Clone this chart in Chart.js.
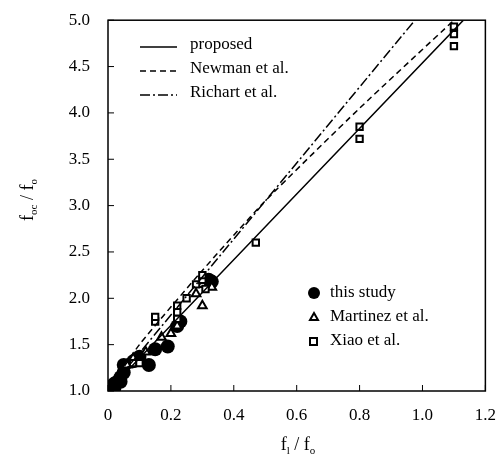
<!DOCTYPE html>
<html>
<head>
<meta charset="utf-8">
<script src="https://cdn.jsdelivr.net/npm/chart.js@4"></script>
<style>
  body { margin: 0; background: #fff; }
  #wrap { width: 502px; height: 461px; position: relative; }
</style>
</head>
<body>
<div id="wrap"><canvas id="chart"></canvas></div>
<script>
// this study (filled circles)
const studyX = [0, 0.005, 0.01, 0.02, 0.02, 0.03, 0.04, 0.04, 0.05, 0.05, 0.08, 0.1, 0.13, 0.15, 0.19, 0.22, 0.23, 0.32, 0.33];
const studyY = [1.0, 1.02, 1.05, 1.03, 1.08, 1.1, 1.1, 1.15, 1.2, 1.28, 1.32, 1.37, 1.28, 1.45, 1.48, 1.7, 1.75, 2.2, 2.18];
// Martinez et al. (open triangles)
const martinezX = [0.06, 0.08, 0.12, 0.17, 0.2, 0.22, 0.28, 0.3, 0.3, 0.33];
const martinezY = [1.28, 1.35, 1.42, 1.58, 1.62, 1.7, 2.05, 1.92, 2.15, 2.12];
// Xiao et al. (open squares)
const xiaoX = [0.08, 0.1, 0.15, 0.15, 0.22, 0.22, 0.22, 0.25, 0.28, 0.3, 0.3, 0.31, 0.47, 0.8, 0.8, 1.1, 1.1, 1.1];
const xiaoY = [1.3, 1.3, 1.75, 1.8, 1.78, 1.85, 1.92, 2.0, 2.15, 2.2, 2.25, 2.1, 2.6, 3.72, 3.85, 4.72, 4.85, 4.93];
// model lines
const proposedX = [0, 1.13];
const proposedY = [1.0, 5.0];
const newmanX = [0, 0.1, 0.3, 0.5, 0.8, 1.1];
const newmanY = [1.0, 1.5, 2.3, 3.05, 4.05, 5.0];
const richartX = [0, 0.976];
const richartY = [1.0, 5.0];
// axes
const xTicks = [0, 0.2, 0.4, 0.6, 0.8, 1.0, 1.2];
const yTicks = [1.0, 1.5, 2.0, 2.5, 3.0, 3.5, 4.0, 4.5, 5.0];

const FONT = '"Liberation Serif", "DejaVu Serif", serif';
const pts = (xs, ys) => xs.map((x, i) => ({ x: x, y: ys[i] }));

const lineStyle = {
    type: 'line',
    borderColor: '#000',
    borderWidth: 1.5,
    pointRadius: 0,
    fill: false,
    tension: 0.2
};

const frameAndLegend = {
    id: 'frameAndLegend',
    afterDraw(chart) {
        const ctx = chart.ctx;
        const a = chart.chartArea;
        const xs = chart.scales.x, ys = chart.scales.y;
        ctx.save();
        ctx.strokeStyle = '#000';
        ctx.lineWidth = 1.5;
        ctx.strokeRect(a.left, a.top, a.right - a.left, a.bottom - a.top);
        // inner ticks
        ctx.lineWidth = 1;
        xTicks.forEach(v => {
            const px = xs.getPixelForValue(v);
            ctx.beginPath(); ctx.moveTo(px, a.bottom); ctx.lineTo(px, a.bottom - 6); ctx.stroke();
        });
        yTicks.forEach(v => {
            const py = ys.getPixelForValue(v);
            ctx.beginPath(); ctx.moveTo(a.left, py); ctx.lineTo(a.left + 6, py); ctx.stroke();
        });

        ctx.fillStyle = '#000';
        ctx.font = '17px ' + FONT;
        ctx.textBaseline = 'middle';
        ctx.textAlign = 'left';
        // line legend
        const lines = [
            { label: 'proposed', dash: [] },
            { label: 'Newman et al.', dash: [6, 4] },
            { label: 'Richart et al.', dash: [10, 3, 2, 3] }
        ];
        lines.forEach((l, i) => {
            const y = 45 + i * 24;
            ctx.setLineDash(l.dash);
            ctx.lineWidth = 1.5;
            ctx.beginPath(); ctx.moveTo(140, y + 2); ctx.lineTo(177, y + 2); ctx.stroke();
            ctx.setLineDash([]);
            ctx.fillText(l.label, 190, y);
        });
        // marker legend
        const mk = [
            { label: 'this study', style: 'circle' },
            { label: 'Martinez et al.', style: 'triangle' },
            { label: 'Xiao et al.', style: 'rect' }
        ];
        mk.forEach((m, i) => {
            const y = 293 + i * 24;
            ctx.lineWidth = 2;
            if (m.style === 'circle') {
                ctx.beginPath(); ctx.arc(314, y, 6, 0, Math.PI * 2); ctx.fill();
            } else if (m.style === 'triangle') {
                ctx.beginPath(); ctx.moveTo(314, y - 4); ctx.lineTo(318, y + 3); ctx.lineTo(310, y + 3); ctx.closePath(); ctx.stroke();
            } else {
                ctx.strokeRect(310, y - 3, 7, 7);
            }
            ctx.fillText(m.label, 330, y);
        });

        // axis titles with subscripts
        ctx.textBaseline = 'alphabetic';
        const big = '18px ' + FONT;
        const sub = '11px ' + FONT;
        function drawSub(parts, x, y) {
            let cx = x;
            parts.forEach(p => {
                ctx.font = p[1] ? sub : big;
                ctx.fillText(p[0], cx, y + (p[1] ? 4 : 0));
                cx += ctx.measureText(p[0]).width;
            });
        }
        function widthOf(parts) {
            let w = 0;
            parts.forEach(p => { ctx.font = p[1] ? sub : big; w += ctx.measureText(p[0]).width; });
            return w;
        }
        const xt = [['f', 0], ['l', 1], [' / f', 0], ['o', 1]];
        drawSub(xt, 298 - widthOf(xt) / 2, 450);
        const yt = [['f', 0], ['oc', 1], [' / f', 0], ['o', 1]];
        ctx.translate(33, 200);
        ctx.rotate(-Math.PI / 2);
        drawSub(yt, -widthOf(yt) / 2, 0);
        ctx.restore();
    }
};

new Chart(document.getElementById('chart'), {
    type: 'scatter',
    data: {
        datasets: [
            Object.assign({ label: 'proposed', data: pts(proposedX, proposedY), borderDash: [] }, lineStyle),
            Object.assign({ label: 'Newman et al.', data: pts(newmanX, newmanY), borderDash: [6, 4] }, lineStyle),
            Object.assign({ label: 'Richart et al.', data: pts(richartX, richartY), borderDash: [10, 3, 2, 3] }, lineStyle),
            {
                label: 'Xiao et al.',
                data: pts(xiaoX, xiaoY),
                pointStyle: 'rect',
                pointRadius: 4.5,
                pointBorderWidth: 2,
                pointBorderColor: '#000',
                pointBackgroundColor: '#fff'
            },
            {
                label: 'Martinez et al.',
                data: pts(martinezX, martinezY),
                pointStyle: 'triangle',
                pointRadius: 5,
                pointBorderWidth: 2,
                pointBorderColor: '#000',
                pointBackgroundColor: '#fff'
            },
            {
                label: 'this study',
                data: pts(studyX, studyY),
                pointStyle: 'circle',
                pointRadius: 7,
                pointBorderWidth: 0,
                pointBackgroundColor: '#000'
            }
        ]
    },
    options: {
        responsive: true,
        maintainAspectRatio: false,
        animation: false,
        layout: { padding: { left: 0, right: 14, top: 13, bottom: 0 } },
        scales: {
            x: {
                type: 'linear',
                min: 0,
                max: 1.2,
                afterBuildTicks: s => { s.ticks = xTicks.map(v => ({ value: v })); },
                afterFit: s => { s.height = 70; },
                grid: { display: false },
                border: { display: false },
                ticks: {
                    color: '#000',
                    padding: 6,
                    font: { family: FONT, size: 17 },
                    callback: v => v === 0 ? '0' : Number(v).toFixed(1)
                }
            },
            y: {
                type: 'linear',
                min: 1.0,
                max: 5.0,
                afterBuildTicks: s => { s.ticks = yTicks.map(v => ({ value: v })); },
                afterFit: s => { s.width = 108; },
                grid: { display: false },
                border: { display: false },
                ticks: {
                    color: '#000',
                    padding: 10,
                    font: { family: FONT, size: 17 },
                    callback: v => Number(v).toFixed(1)
                }
            }
        },
        plugins: {
            legend: { display: false },
            tooltip: { enabled: false }
        }
    },
    plugins: [frameAndLegend]
});
</script>
</body>
</html>
